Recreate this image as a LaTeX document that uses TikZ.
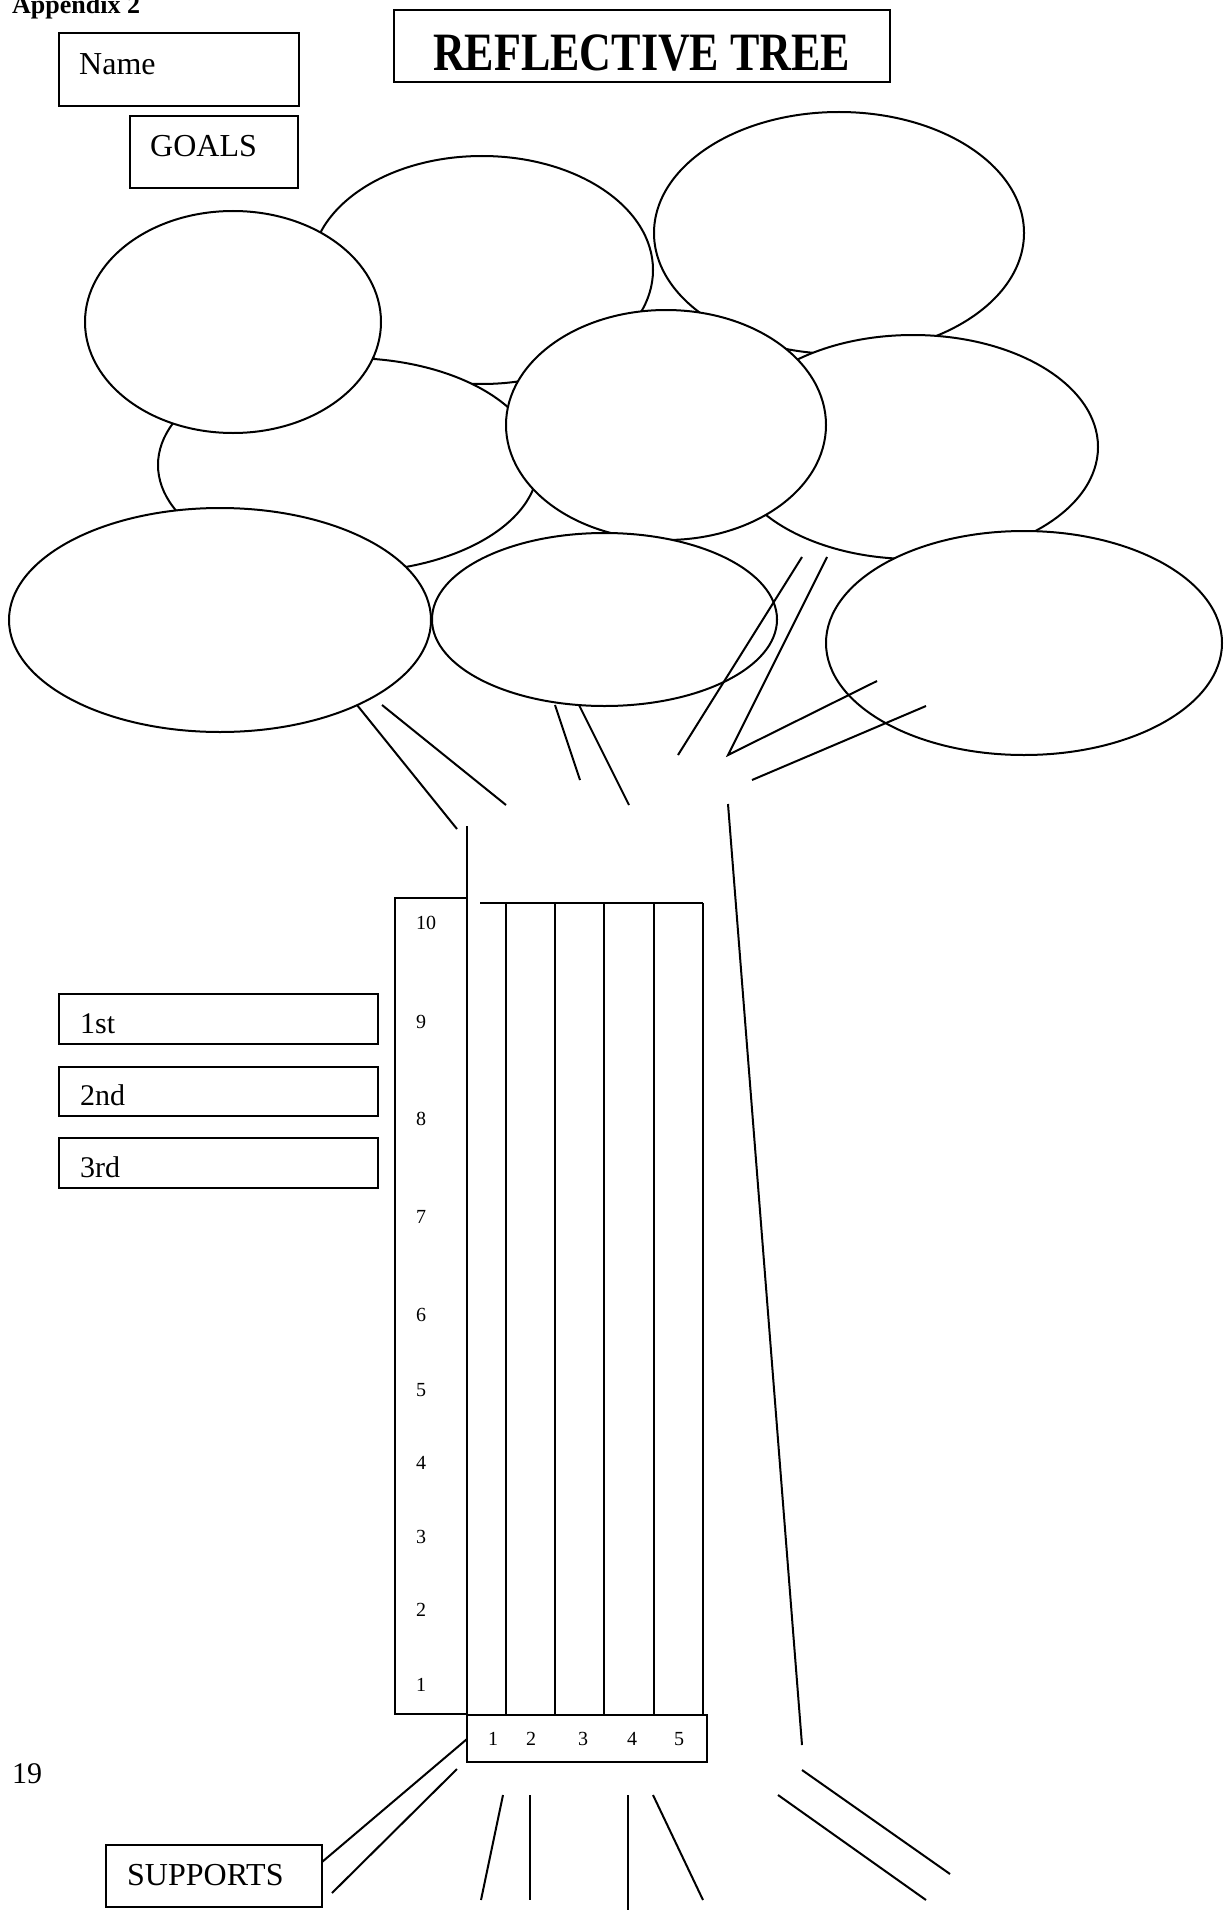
\documentclass[tikz,border=0pt]{standalone}
\usepackage{fontspec}
\setmainfont{Liberation Serif}
\usetikzlibrary{shapes.geometric}
\begin{document}
\begin{tikzpicture}[x=1pt,y=-1pt,
  ln/.style={line width=2pt},
  box/.style={draw,line width=2pt,inner sep=0pt,outer sep=0pt,anchor=north west},
  leaf/.style={draw,fill=white,ellipse,line width=2pt,inner sep=0pt,outer sep=0pt},
  lbl/.style={inner sep=0pt,anchor=base west,font=\fontsize{32}{38}\selectfont},
  lblb/.style={inner sep=0pt,anchor=base west,font=\fontsize{30}{36}\selectfont},
  num/.style={inner sep=0pt,anchor=base west,font=\fontsize{20}{24}\selectfont},
  numc/.style={inner sep=0pt,anchor=base,font=\fontsize{20}{24}\selectfont}]
\useasboundingbox (0,0) rectangle (1229,1910);

% header
\node[inner sep=0pt,anchor=base west,font=\bfseries\fontsize{26}{30}\selectfont] (appx) at (12,14) {Appendix 2};
\node[box,minimum width=240pt,minimum height=73pt] (namebox) at (59,33) {};
\node[lbl] (nametxt) at (79,75) {Name};
\node[box,minimum width=168pt,minimum height=72pt] (goalsbox) at (130,116) {};
\node[lbl] (goalstxt) at (150,157) {GOALS};
\node[box,minimum width=496pt,minimum height=72pt] (titlebox) at (394,10) {};
\node[inner sep=0pt,anchor=base west,font=\bfseries\fontsize{54}{64}\selectfont] (titletxt) at (433,71) {\scalebox{0.815}[1]{REFLECTIVE TREE}};

% leaves
\node[leaf,minimum width=342pt,minimum height=228pt] (etopmid) at (482,270) {};
\node[leaf,minimum width=370pt,minimum height=242pt] (etopright) at (839,233) {};
\node[leaf,minimum width=380pt,minimum height=214pt] (emidleft) at (348,465) {};
\node[leaf,minimum width=296pt,minimum height=222pt] (esmallleft) at (233,322) {};
\node[leaf,minimum width=370pt,minimum height=224pt] (emidright) at (913,447) {};
\node[leaf,minimum width=320pt,minimum height=230pt] (emid) at (666,425) {};
\node[leaf,minimum width=422pt,minimum height=224pt] (ebotleft) at (220,620) {};
\node[leaf,minimum width=345pt,minimum height=173pt] (ebotmid) at (604.5,619.5) {};
\node[leaf,minimum width=396pt,minimum height=224pt] (ebotright) at (1024,643) {};

% branches
\draw[ln] (357,705) -- (457,829);
\draw[ln] (382,705) -- (506,805);
\draw[ln] (555,705) -- (580,780);
\draw[ln] (579,705) -- (629,805);
\draw[ln] (802,557) -- (678,755);
\draw[ln] (827,557) -- (728,755) -- (877,681);
\draw[ln] (752,780) -- (926,706);

% trunk
\draw[ln] (467,826) -- (467,1715);
\draw[ln] (728,804) -- (802,1745);

% scale column
\node[box,minimum width=72pt,minimum height=816pt] (scalebox) at (395,898) {};
\foreach \n/\y in {10/929,9/1028,8/1125,7/1223,6/1321,5/1396,4/1469,3/1543,2/1616,1/1691}
  \node[num] (s\n) at (416,\y) {\n};

% grid
\draw[ln] (480,903) -- (703,903);
\foreach \x in {506,555,604,654,703}
  \draw[ln] (\x,903) -- (\x,1715);
\node[box,minimum width=240pt,minimum height=47pt] (numbox) at (467,1715) {};
\foreach \n/\x in {1/493,2/531,3/583,4/632,5/679}
  \node[numc] (b\n) at (\x,1745) {\n};

% ranking boxes
\node[box,minimum width=319pt,minimum height=50pt] (box1) at (59,994) {};
\node[lblb] (t1) at (80,1033) {1st};
\node[box,minimum width=319pt,minimum height=49pt] (box2) at (59,1067) {};
\node[lblb] (t2) at (80,1105) {2nd};
\node[box,minimum width=319pt,minimum height=50pt] (box3) at (59,1138) {};
\node[lblb] (t3) at (80,1177) {3rd};

% page number
\node[lblb] (pg) at (12,1783) {19};

% supports
\node[box,minimum width=216pt,minimum height=62pt] (supbox) at (106,1845) {};
\node[lbl] (suptxt) at (127,1885) {SUPPORTS};

% roots
\draw[ln] (322,1862) -- (467,1739);
\draw[ln] (332,1893) -- (457,1769);
\draw[ln] (503,1795) -- (481,1900);
\draw[ln] (530,1795) -- (530,1900);
\draw[ln] (628,1795) -- (628,1910);
\draw[ln] (653,1795) -- (703,1900);
\draw[ln] (802,1770) -- (950,1874);
\draw[ln] (778,1795) -- (926,1900);
\end{tikzpicture}
\end{document}
